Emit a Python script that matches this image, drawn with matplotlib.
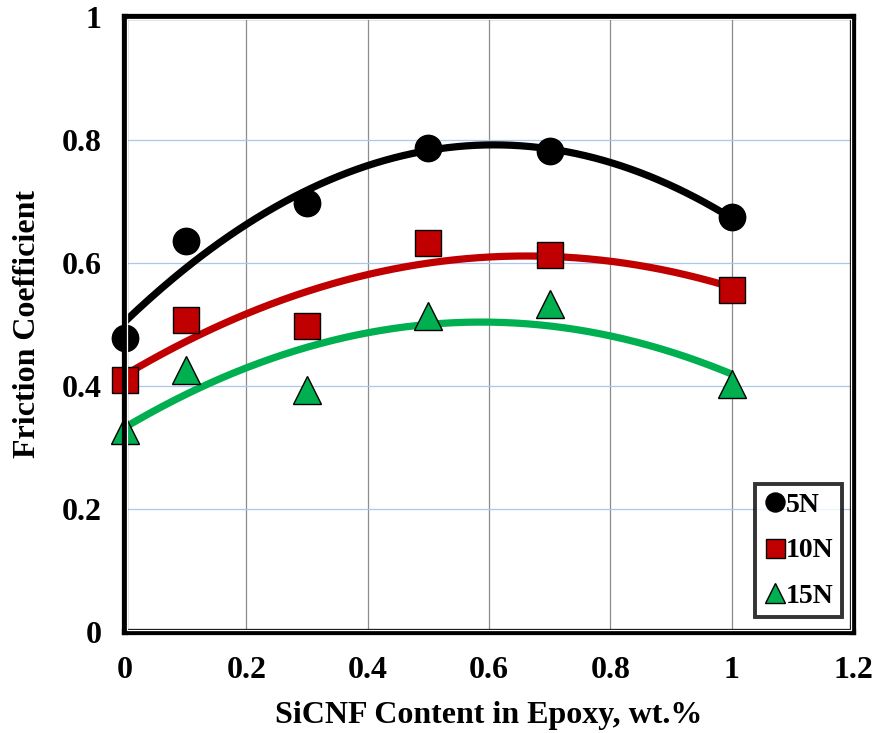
import numpy as np
import matplotlib
matplotlib.use("Agg")
import matplotlib.pyplot as plt
from matplotlib.patches import Rectangle

x = [0, 0.1, 0.3, 0.5, 0.7, 1.0]
y_5N = [0.478, 0.636, 0.698, 0.787, 0.782, 0.675]
y_10N = [0.409, 0.507, 0.497, 0.633, 0.613, 0.556]
y_15N = [0.328, 0.426, 0.393, 0.514, 0.534, 0.404]
labels = ["5N", "10N", "15N"]
colors = ["#000000", "#C00000", "#00B050"]
markers = ["o", "s", "^"]
xticks = [0, 0.2, 0.4, 0.6, 0.8, 1, 1.2]
yticks = [0, 0.2, 0.4, 0.6, 0.8, 1]

plt.rcParams['font.family'] = ['Liberation Serif', 'DejaVu Serif']
plt.rcParams['font.weight'] = 'bold'

fig = plt.figure(figsize=(8.77, 7.33), dpi=100)
ax = fig.add_axes([125/877, 1-632/733, 728/877, 615/733])
ax.set_xlim(0, 1.2)
ax.set_ylim(0, 1)

for xv in xticks[1:-1]:
    ax.axvline(xv, color="#8c8c8c", lw=0.9, zorder=1)
for yv in yticks[1:-1]:
    ax.axhline(yv, color="#a9c8f0", lw=0.9, zorder=1)

xs = np.linspace(0, 1, 200)
for ys, c, m, lab in zip([y_5N, y_10N, y_15N], colors, markers, labels):
    coef = np.polyfit(x, ys, 2)
    ax.plot(xs, np.polyval(coef, xs), color=c, lw=5.2, zorder=3, solid_capstyle='butt')
    ms = 19 if m != "^" else 20
    ax.plot(x, ys, linestyle='none', marker=m, markersize=ms, color=c,
            markeredgecolor='black' if m != "o" else c, markeredgewidth=1.0,
            zorder=4, clip_on=False, label=lab)

ax.set_xticks(xticks)
ax.set_xticklabels(["0", "0.2", "0.4", "0.6", "0.8", "1", "1.2"])
ax.set_yticks(yticks)
ax.set_yticklabels(["0", "0.2", "0.4", "0.6", "0.8", "1"])
ax.tick_params(axis='x', length=0, labelsize=23, pad=17)
ax.tick_params(axis='y', length=0, labelsize=23, pad=17)
for lbl in ax.get_xticklabels() + ax.get_yticklabels():
    lbl.set_fontweight('bold')

ax.set_xlabel("SiCNF Content in Epoxy, wt.%", fontsize=23, fontweight='bold', labelpad=12)
ax.set_ylabel("Friction Coefficient", fontsize=23, fontweight='bold', labelpad=14)

for sp in ax.spines.values():
    sp.set_linewidth(4.5)
    sp.set_color('black')
    sp.set_zorder(5)
# inner white gap of double frame
dx = 1.6/728
dy = 1.6/615
ax.add_patch(Rectangle((dx, dy), 1-2*dx, 1-2*dy, transform=ax.transAxes,
                       fill=False, edgecolor='white', lw=0.9, zorder=6, clip_on=False))

leg = ax.legend(loc='lower right', bbox_to_anchor=(0.985, 0.024), borderaxespad=0,
                prop={'weight': 'bold', 'size': 20}, frameon=True, fancybox=False,
                handletextpad=0.0, handlelength=0.8, borderpad=0.3, labelspacing=0.72,
                markerscale=0.72)
leg.get_frame().set_edgecolor('black')
leg.get_frame().set_linewidth(2.8)
leg.set_zorder(7)

fig.savefig("out.png", dpi=100)
